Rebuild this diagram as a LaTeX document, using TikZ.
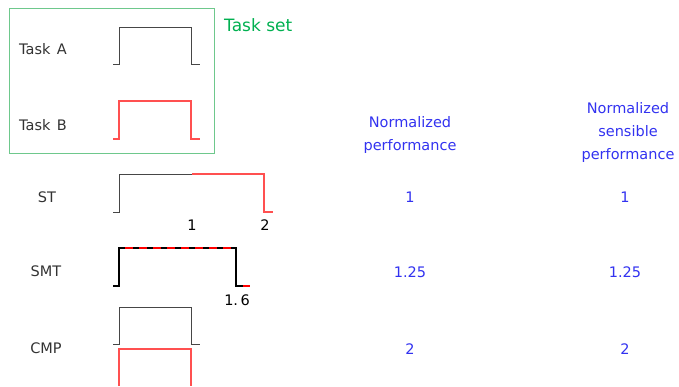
\documentclass[tikz,border=0pt]{standalone}
\usepackage{fontspec}
\setmainfont{DejaVu Sans}
\definecolor{boxgreen}{RGB}{110,200,140}
\definecolor{txtgreen}{RGB}{0,176,80}
\definecolor{txtblue}{RGB}{50,50,240}
\definecolor{linegray}{RGB}{70,70,70}
\definecolor{linered}{RGB}{255,80,80}
\begin{document}
\begin{tikzpicture}[x=1pt,y=-1pt,
  lbl/.style={font=\fontsize{14.5}{16}\selectfont, text=black!80, inner sep=0pt},
  num/.style={font=\fontsize{14.5}{16}\selectfont, text=txtblue, inner sep=0pt},
  hdr/.style={font=\fontsize{14.5}{23}\selectfont, text=txtblue, align=center, inner sep=0pt},
  tick/.style={font=\fontsize{14.5}{16}\selectfont, text=black, inner sep=0pt},
  blk/.style={draw=linegray, line width=1pt},
  redline/.style={draw=linered, line width=1.2pt}]
\useasboundingbox (0,0) rectangle (679,386);
% ---- all line work first ----
\draw[boxgreen, line width=1pt] (9,8) rectangle (214,153);
% Task A / Task B
\draw[redline] (113,139) -- (119,139) -- (119,101) -- (191,101) -- (191,139) -- (200,139);
\draw[blk] (113,64) -- (119,64) -- (119,27) -- (191,27) -- (191,64) -- (200,64);
% CMP
\draw[redline] (119,386) -- (119,349) -- (191,349) -- (191,386);
\draw[blk] (113,344) -- (119,344) -- (119,307) -- (191,307) -- (191,344) -- (200,344);
% ST
\draw[redline] (192,174) -- (264,174) -- (264,212) -- (273,212);
\draw[blk] (113,212) -- (119,212) -- (119,174) -- (192,174);
% SMT
\draw[draw=black, line width=2pt] (113,286) -- (119,286) -- (119,248) -- (236,248) -- (236,286) -- (250,286);
\draw[draw=red, line width=2.6pt, dash pattern=on 8pt off 6pt, dash phase=-4pt] (121,248) -- (234,248);
\draw[draw=red, line width=2.6pt] (243,286) -- (250,286);
% ---- texts ----
\node[font=\fontsize{17}{19}\selectfont, text=txtgreen, anchor=west, inner sep=0pt] (taskset) at (224,25) {Task set};
\node[lbl, anchor=west] (taskA) at (19,49) {Task\;\,A};
\node[lbl, anchor=west] (taskB) at (19,125) {Task\;\,B};
\node[lbl] (st) at (47,197) {ST};
\node[tick] (t1) at (192,225) {1};
\node[tick] (t2) at (265,225) {2};
\node[lbl] (smt) at (46,271) {SMT};
\node[tick] (t16) at (237,300) {1.\,6};
\node[lbl] (cmp) at (46,348) {CMP};
\node[hdr] (h1) at (410,135) {Normalized\\performance};
\node[hdr] (h2) at (628,132) {Normalized\\sensible\\performance};
\node[num] (a1) at (410,197) {1};
\node[num] (a2) at (410,272) {1.25};
\node[num] (a3) at (410,349) {2};
\node[num] (b1) at (625,197) {1};
\node[num] (b2) at (625,272) {1.25};
\node[num] (b3) at (625,349) {2};
\end{tikzpicture}
\end{document}
